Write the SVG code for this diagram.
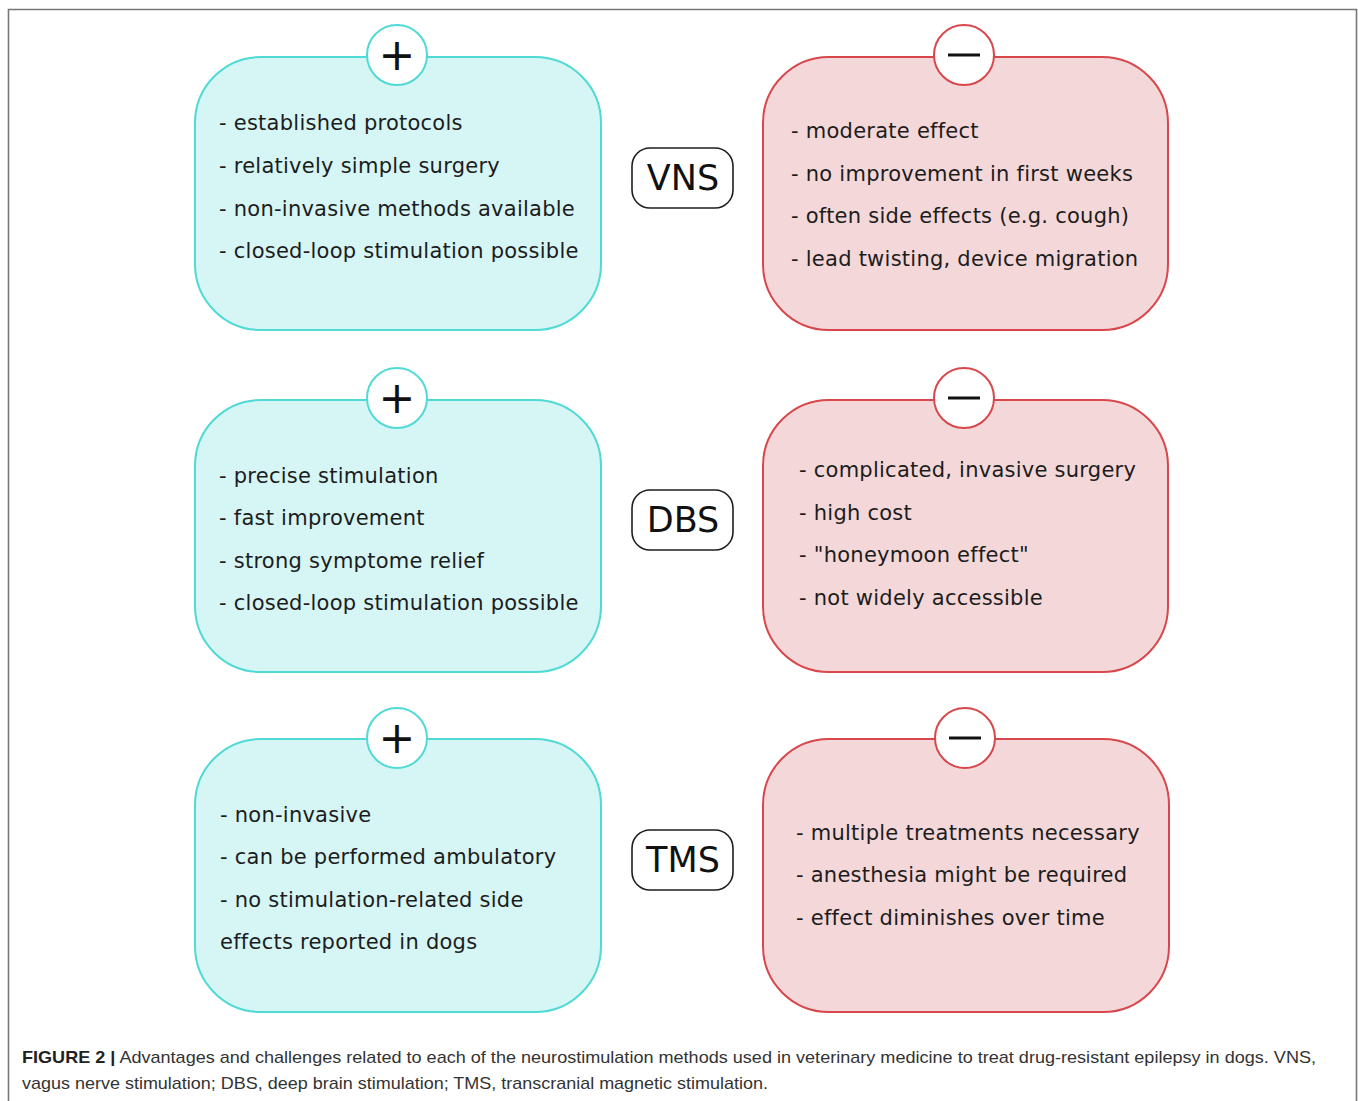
<svg xmlns="http://www.w3.org/2000/svg" width="1358" height="1101" viewBox="0 0 1358 1101">
<style>
.pos{fill:#d6f6f5;stroke:#4fdad5;stroke-width:2}
.neg{fill:#f4d8d9;stroke:#d8474b;stroke-width:2}
.cpos{fill:#fff;stroke:#4fdad5;stroke-width:2}
.cneg{fill:#fff;stroke:#d8474b;stroke-width:2}
.lbl{fill:#fff;stroke:#1e1e1e;stroke-width:1.6}
.t{font-family:"DejaVu Sans",Verdana,sans-serif;font-size:21px;letter-spacing:0.25px;fill:#1c1c1c}
.big{font-family:"DejaVu Sans",Verdana,sans-serif;font-size:35px;fill:#111;text-anchor:middle}
.sym{font-family:"DejaVu Sans",Verdana,sans-serif;font-size:44px;fill:#111;text-anchor:middle}
.cap{font-family:"Liberation Sans",Arial,sans-serif;font-size:17px;fill:#333}
</style>
<rect x="0" y="0" width="1358" height="1101" fill="#fff"/>
<path d="M8.5 1101 V9.5 H1356.5 V1101" fill="none" stroke="#777" stroke-width="1.6"/>
<g id="connectors"/>
<g id="vns-pos">
<rect class="pos" x="195" y="57" width="406" height="273" rx="66"/>
<circle class="cpos" cx="397" cy="55" r="30"/>
<text class="sym" x="397" y="70">+</text>
<text class="t" x="219" y="130">- established protocols</text>
<text class="t" x="219" y="173">- relatively simple surgery</text>
<text class="t" x="219" y="216">- non-invasive methods available</text>
<text class="t" x="219" y="258">- closed-loop stimulation possible</text>
</g>
<g id="vns-neg">
<rect class="neg" x="763" y="57" width="405" height="273" rx="66"/>
<circle class="cneg" cx="964" cy="55" r="30"/>
<line x1="948" y1="55" x2="980" y2="55" stroke="#111" stroke-width="3"/>
<text class="t" x="791" y="138">- moderate effect</text>
<text class="t" x="791" y="181">- no improvement in first weeks</text>
<text class="t" x="791" y="223">- often side effects (e.g. cough)</text>
<text class="t" x="791" y="266">- lead twisting, device migration</text>
</g>
<g id="vns">
<rect class="lbl" x="632" y="148" width="101" height="60" rx="18"/>
<text class="big" x="683" y="190">VNS</text>
</g>
<g id="dbs-pos">
<rect class="pos" x="195" y="400" width="406" height="272" rx="66"/>
<circle class="cpos" cx="397" cy="398" r="30"/>
<text class="sym" x="397" y="413">+</text>
<text class="t" x="219" y="483">- precise stimulation</text>
<text class="t" x="219" y="525">- fast improvement</text>
<text class="t" x="219" y="568">- strong symptome relief</text>
<text class="t" x="219" y="610">- closed-loop stimulation possible</text>
</g>
<g id="dbs-neg">
<rect class="neg" x="763" y="400" width="405" height="272" rx="66"/>
<circle class="cneg" cx="964" cy="398" r="30"/>
<line x1="948" y1="398" x2="980" y2="398" stroke="#111" stroke-width="3"/>
<text class="t" x="799" y="477">- complicated, invasive surgery</text>
<text class="t" x="799" y="520">- high cost</text>
<text class="t" x="799" y="562">- "honeymoon effect"</text>
<text class="t" x="799" y="605">- not widely accessible</text>
</g>
<g id="dbs">
<rect class="lbl" x="632" y="490" width="101" height="60" rx="18"/>
<text class="big" x="683" y="532">DBS</text>
</g>
<g id="tms-pos">
<rect class="pos" x="195" y="739" width="406" height="273" rx="66"/>
<circle class="cpos" cx="397" cy="738" r="30"/>
<text class="sym" x="397" y="753">+</text>
<text class="t" x="220" y="822">- non-invasive</text>
<text class="t" x="220" y="864">- can be performed ambulatory</text>
<text class="t" x="220" y="907">- no stimulation-related side</text>
<text class="t" x="220" y="949">effects reported in dogs</text>
</g>
<g id="tms-neg">
<rect class="neg" x="763" y="739" width="406" height="273" rx="66"/>
<circle class="cneg" cx="965" cy="738" r="30"/>
<line x1="949" y1="738" x2="981" y2="738" stroke="#111" stroke-width="3"/>
<text class="t" x="796" y="840">- multiple treatments necessary</text>
<text class="t" x="796" y="882">- anesthesia might be required</text>
<text class="t" x="796" y="925">- effect diminishes over time</text>
</g>
<g id="tms">
<rect class="lbl" x="632" y="830" width="101" height="60" rx="18"/>
<text class="big" x="683" y="872">TMS</text>
</g>
<g id="caption">
<text class="cap" x="22" y="1063" textLength="1294" lengthAdjust="spacingAndGlyphs"><tspan font-weight="bold" fill="#222">FIGURE 2 |</tspan> Advantages and challenges related to each of the neurostimulation methods used in veterinary medicine to treat drug-resistant epilepsy in dogs. VNS,</text>
<text class="cap" x="22" y="1089" textLength="746" lengthAdjust="spacingAndGlyphs">vagus nerve stimulation; DBS, deep brain stimulation; TMS, transcranial magnetic stimulation.</text>
</g>
</svg>
